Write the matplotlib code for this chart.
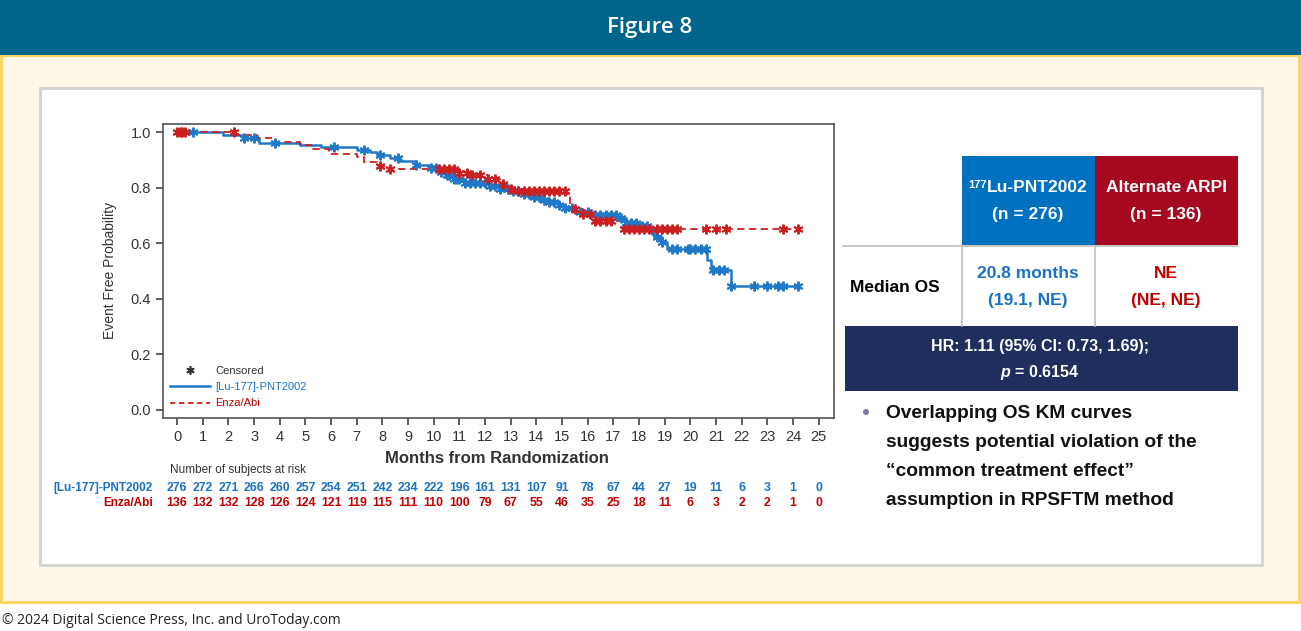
import numpy as np
import matplotlib
matplotlib.use("Agg")
import matplotlib.pyplot as plt
from matplotlib.patches import Rectangle, Circle
from matplotlib.lines import Line2D

plt.rcParams['font.family'] = ['Liberation Sans', 'DejaVu Sans']
plt.rcParams['mathtext.fontset'] = 'custom'
plt.rcParams['mathtext.rm'] = 'Liberation Sans:bold'
plt.rcParams['mathtext.it'] = 'Liberation Sans:italic:bold'

# Kaplan-Meier steps (month, survival after the step)
lu_times = [0, 1.8, 2.6, 3.2, 4.8, 5.6, 7.0, 7.5, 7.8, 8.3, 8.7, 9.3, 9.9, 10.3, 10.5,
            10.8, 11.2, 12.2, 12.6, 13.0, 13.4, 13.8, 14.2, 14.5, 14.9, 15.1, 15.5,
            16.1, 17.2, 17.5, 18.1, 18.4, 18.6, 18.9, 19.1, 20.65, 20.8, 21.6, 24.2]
lu_surv = [1.0, 0.992, 0.978, 0.963, 0.956, 0.947, 0.938, 0.928, 0.917, 0.907, 0.897,
           0.882, 0.870, 0.857, 0.845, 0.830, 0.818, 0.805, 0.797, 0.787, 0.776, 0.766,
           0.757, 0.748, 0.737, 0.726, 0.714, 0.702, 0.690, 0.672, 0.664, 0.648, 0.624,
           0.606, 0.578, 0.540, 0.504, 0.447, 0.447]
lu_censor = [0.6, 2.6, 3.0, 3.8, 6.1, 7.3, 7.9, 8.6, 9.3, 9.9, 10.1, 10.3, 10.5, 10.6,
             10.8, 10.9, 11.0, 11.2, 11.4, 11.6, 11.8, 12.0, 12.2, 12.4, 12.6, 12.9, 13.1,
             13.3, 13.5, 13.7, 13.9, 14.1, 14.3, 14.5, 14.7, 14.9, 15.1, 15.4, 15.7, 16.0,
             16.3, 16.5, 16.7, 16.9, 17.1, 17.3, 17.5, 17.7, 17.9, 18.1, 18.3, 18.5, 18.7,
             18.9, 19.3, 19.5, 19.9, 20.0, 20.2, 20.4, 20.6, 20.9, 21.1, 21.3, 21.6, 22.5,
             23.0, 23.4, 23.6, 24.2]

enza_times = [0, 2.3, 3.1, 3.8, 4.8, 5.3, 5.9, 7.0, 7.3, 7.8, 8.3, 10.1, 11.0, 11.5,
              12.1, 12.6, 13.0, 13.3, 15.2, 15.3, 15.8, 16.2, 17.4, 24.2]
enza_surv = [1.0, 0.989, 0.978, 0.965, 0.956, 0.941, 0.923, 0.911, 0.894, 0.878, 0.869,
             0.866, 0.855, 0.845, 0.833, 0.815, 0.797, 0.789, 0.770, 0.722, 0.704, 0.680,
             0.653, 0.653]
enza_censor = [0.0, 0.1, 0.2, 0.3, 2.2, 7.9, 8.3, 10.2, 10.4, 10.6, 10.8, 11.0, 11.3, 11.5,
               11.8, 12.1, 12.4, 12.7, 13.0, 13.3, 13.5, 13.7, 13.9, 14.1, 14.3, 14.5,
               14.7, 14.9, 15.1, 15.5, 15.8, 16.1, 16.3, 16.5, 16.7, 16.9, 17.4, 17.6,
               17.8, 18.0, 18.2, 18.4, 18.7, 18.9, 19.1, 19.3, 19.5, 20.6, 21.0, 21.4,
               23.6, 24.2]

# Number at risk table
months = list(range(0, 26))
lu_risk = [276, 272, 271, 266, 260, 257, 254, 251, 242, 234, 222, 196, 161, 131, 107,
           91, 78, 67, 44, 27, 19, 11, 6, 3, 1, 0]
enza_risk = [136, 132, 132, 128, 126, 124, 121, 119, 115, 111, 110, 100, 79, 67, 55,
             46, 35, 25, 18, 11, 6, 3, 2, 2, 1, 0]

BLUE = '#1f78c8'
RED = '#cc1f1f'
TEXT_BLUE = '#1a72c4'
TEXT_RED = '#c00000'

W, H = 1301, 631
fig = plt.figure(figsize=(W / 100, H / 100), dpi=100)

# Background layer in pixel coordinates
bg = fig.add_axes([0, 0, 1, 1])
bg.set_xlim(0, W)
bg.set_ylim(H, 0)
bg.axis('off')

bg.add_patch(Rectangle((1, 55), W - 3, 547, facecolor='#fff8e9', edgecolor='#fbd25a', lw=2))
bg.add_patch(Rectangle((0, 0), W, 55, facecolor='#00648b', edgecolor='none'))
bg.text(650, 28, 'Figure 8', color='white', fontsize=16, fontweight='semibold',
        family=['Open Sans', 'DejaVu Sans'], ha='center', va='center')
bg.add_patch(Rectangle((40, 88), 1222, 477, facecolor='white', edgecolor='#d2d2d2', lw=2))
bg.text(2, 621, '\u00a9 2024 Digital Science Press, Inc. and UroToday.com', color='#222222',
        fontsize=10, family=['Open Sans', 'DejaVu Sans'], ha='left', va='center')

# Results table on the right
bg.add_patch(Rectangle((962, 156), 133, 89, facecolor='#0070c0', edgecolor='none'))
bg.add_patch(Rectangle((1095, 156), 143, 89, facecolor='#a6091f', edgecolor='none'))
bg.plot([843, 1238], [246, 246], color='#bdbdbd', lw=1.2)
bg.plot([962, 962], [246, 326], color='#bdbdbd', lw=1.2)
bg.plot([1095, 1095], [246, 326], color='#bdbdbd', lw=1.2)
bg.add_patch(Rectangle((845, 326), 393, 65, facecolor='#1f2e5c', edgecolor='none'))

hdr = bg.text(1037, 187, 'Lu-PNT2002', color='white', fontsize=12.5, fontweight='bold',
              ha='center', va='center')
bg.annotate('177', xy=(0, 1), xycoords=hdr, color='white', fontsize=8, fontweight='bold',
            ha='right', va='top')
bg.text(1028, 215, '(n = 276)', color='white', fontsize=12.5, fontweight='bold',
        ha='center', va='center')
bg.text(1166, 187, 'Alternate ARPI', color='white', fontsize=12.5, fontweight='bold',
        ha='center', va='center')
bg.text(1166, 215, '(n = 136)', color='white', fontsize=12.5, fontweight='bold',
        ha='center', va='center')
bg.text(895, 287, 'Median OS', color='black', fontsize=12.5, fontweight='bold',
        ha='center', va='center')
bg.text(1028, 274, '20.8 months', color=TEXT_BLUE, fontsize=12.5, fontweight='bold',
        ha='center', va='center')
bg.text(1028, 300, '(19.1, NE)', color=TEXT_BLUE, fontsize=12.5, fontweight='bold',
        ha='center', va='center')
bg.text(1166, 274, 'NE', color=TEXT_RED, fontsize=12.5, fontweight='bold',
        ha='center', va='center')
bg.text(1166, 300, '(NE, NE)', color=TEXT_RED, fontsize=12.5, fontweight='bold',
        ha='center', va='center')
bg.text(1040, 346, 'HR: 1.11 (95% CI: 0.73, 1.69);', color='white', fontsize=11.5,
        fontweight='bold', ha='center', va='center')
bg.text(1040, 373, '$p$ = 0.6154', color='white', fontsize=11.5, fontweight='bold',
        ha='center', va='center')

# Bullet note
bg.add_patch(Circle((866, 412), 3, facecolor='#7b78aa', edgecolor='none'))
note = ['Overlapping OS KM curves',
        'suggests potential violation of the',
        '\u201ccommon treatment effect\u201d',
        'assumption in RPSFTM method']
for i, line in enumerate(note):
    bg.text(886, 413 + i * 29.3, line, color='#111111', fontsize=13.8, fontweight='bold',
            ha='left', va='center')

# KM plot
ax = fig.add_axes([163 / W, (H - 418) / H, 671 / W, 294 / H])
ax.step(lu_times, lu_surv, where='post', color=BLUE, lw=1.8)
ax.step(enza_times, enza_surv, where='post', color=RED, lw=1.3, dashes=(4, 2.5))


def at_time(times, surv, t):
    idx = np.searchsorted(times, t, side='right') - 1
    return np.array(surv)[idx]


star = (6, 2, 0)
ax.plot(lu_censor, at_time(lu_times, lu_surv, lu_censor), ls='none', marker=star,
        color=BLUE, ms=7, mew=1.4)
ax.plot(enza_censor, at_time(enza_times, enza_surv, enza_censor), ls='none', marker=star,
        color=RED, ms=7, mew=1.4)

ax.set_xlim(-0.55, 25.6)
ax.set_ylim(-0.03, 1.03)
ax.set_xticks(months)
ax.set_yticks([0.0, 0.2, 0.4, 0.6, 0.8, 1.0])
ax.set_yticklabels(['0.0', '0.2', '0.4', '0.6', '0.8', '1.0'])
ax.tick_params(labelsize=10.5, colors='#333333', length=5, width=1.1)
for s in ax.spines.values():
    s.set_color('#555555')
    s.set_linewidth(1.2)

ax.set_xlabel('Months from Randomization', fontsize=12, fontweight='bold', color='#333333')
ax.xaxis.set_label_coords(0.498, -0.112)
ax.set_ylabel('Event Free Probability', fontsize=10, color='#333333')
ax.yaxis.set_label_coords(-0.069, 0.503)

# Legend
handles = [Line2D([], [], ls='none', marker=star, color='#333333', ms=6, mew=1.2),
           Line2D([], [], color=BLUE, lw=1.8),
           Line2D([], [], color=RED, lw=1.3, dashes=(3, 2))]
leg = ax.legend(handles, ['Censored', '[Lu-177]-PNT2002', 'Enza/Abi'], loc='lower left',
                bbox_to_anchor=(0.0, 0.01), frameon=False, fontsize=8, handlelength=3.6,
                labelspacing=0.55, handletextpad=0.5, borderaxespad=0.2)
for txt, c in zip(leg.get_texts(), ['#333333', TEXT_BLUE, TEXT_RED]):
    txt.set_color(c)

# Number at risk rows under the axis
tr = ax.get_xaxis_transform()
ax.text(-0.27, -0.177, 'Number of subjects at risk', transform=tr, fontsize=8.5,
        color='#333333', ha='left', va='center', clip_on=False)
ax.text(-0.94, -0.238, '[Lu-177]-PNT2002', transform=tr, fontsize=8.5, fontweight='bold',
        color=TEXT_BLUE, ha='right', va='center')
ax.text(-0.94, -0.289, 'Enza/Abi', transform=tr, fontsize=8.5, fontweight='bold',
        color=TEXT_RED, ha='right', va='center')
for m, a, b in zip(months, lu_risk, enza_risk):
    ax.text(m, -0.238, str(a), transform=tr, fontsize=8.8, fontweight='bold',
            color=TEXT_BLUE, ha='center', va='center')
    ax.text(m, -0.289, str(b), transform=tr, fontsize=8.8, fontweight='bold',
            color=TEXT_RED, ha='center', va='center')

fig.savefig('out.png', dpi=100)
